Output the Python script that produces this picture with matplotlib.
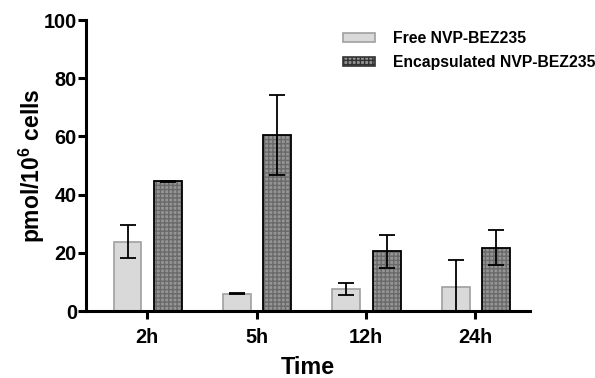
import matplotlib
matplotlib.use("Agg")
import matplotlib.pyplot as plt
import numpy as np
from matplotlib.patches import Patch

# Uptake of NVP-BEZ235 over time
times = ["2h", "5h", "12h", "24h"]
free_mean = [23.9, 6.0, 7.6, 8.3]
free_err = [5.8, 0.2, 2.2, 9.1]
enc_mean = [44.6, 60.4, 20.5, 21.8]
enc_err = [0.2, 13.8, 5.6, 6.0]

plt.rcParams['font.family'] = ['Liberation Sans', 'DejaVu Sans']
plt.rcParams['font.weight'] = 'bold'
plt.rcParams['mathtext.fontset'] = 'custom'
plt.rcParams['mathtext.bf'] = 'Liberation Sans:bold'
plt.rcParams['hatch.linewidth'] = 1.0

fig = plt.figure(figsize=(5.95, 3.78), dpi=100)
ax = fig.add_axes([0.1445, 0.177, 0.7465, 0.770])

x = np.arange(len(times))
w = 0.255
err_kw = dict(ecolor='black', elinewidth=1.3, capsize=5.5, capthick=1.3)

ax.bar(x - 0.18, free_mean, w, yerr=free_err, color='#d9d9d9',
       edgecolor='#a0a0a0', linewidth=1.2, error_kw=err_kw, zorder=2)
ax.bar(x + 0.19, enc_mean, w, color='#959595', edgecolor='#6a6a6a',
       hatch='++++', linewidth=0, zorder=2)
ax.bar(x + 0.19, enc_mean, w, yerr=enc_err, fill=False, edgecolor='black',
       linewidth=1.3, error_kw=err_kw, zorder=3)

# legend handles
handles = [Patch(facecolor='#d9d9d9', edgecolor='#a0a0a0', linewidth=1.2),
           Patch(facecolor='#959595', edgecolor='#333333', hatch='++++', linewidth=1.2)]
ax.legend(handles, ['Free NVP-BEZ235', 'Encapsulated NVP-BEZ235'],
          loc='upper left', bbox_to_anchor=(0.5765, 0.918),
          bbox_transform=fig.transFigure, borderaxespad=0, borderpad=0,
          frameon=False, fontsize=11.35, handlelength=2.0, handleheight=0.5,
          handletextpad=1.15, labelspacing=0.55)

ax.set_xlim(-0.56, 3.5)
ax.set_ylim(0, 100)
ax.set_yticks([0, 20, 40, 60, 80, 100])
ax.set_xticks(x)
ax.set_xticklabels(times)

for s in ['top', 'right']:
    ax.spines[s].set_visible(False)
for s in ['left', 'bottom']:
    ax.spines[s].set_linewidth(2.2)

ax.tick_params(axis='both', which='major', width=2.2, length=5.5,
               labelsize=14.3, direction='out')
ax.tick_params(axis='y', pad=1)
ax.tick_params(axis='x', pad=7)
for lbl in ax.get_xticklabels() + ax.get_yticklabels():
    lbl.set_fontweight('bold')

ax.set_ylabel('pmol/10$^{\\mathbf{6}}$ cells', fontsize=16.5, fontweight='bold')
ax.yaxis.set_label_coords(-0.087, 0.5)
ax.set_xlabel('Time', fontsize=16.8, fontweight='bold', labelpad=6)

fig.savefig('out.png', dpi=100)
